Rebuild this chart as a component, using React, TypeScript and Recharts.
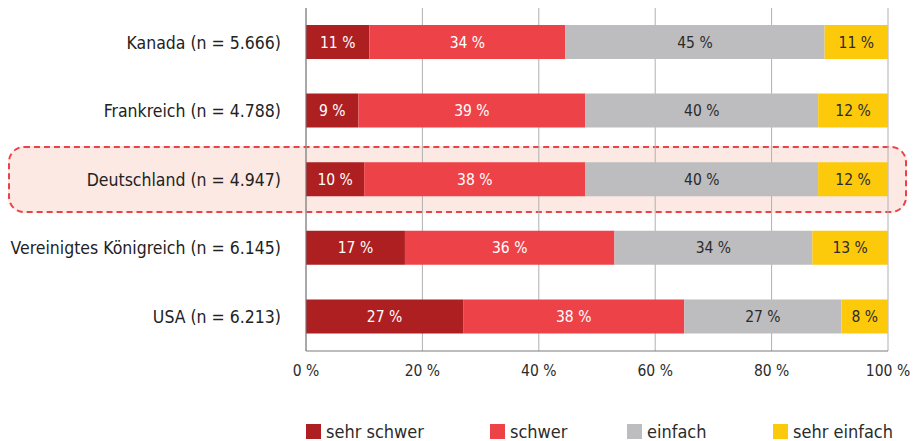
import { BarChart, Bar, XAxis, YAxis, CartesianGrid, Legend, LabelList } from 'recharts';

const countries = [
  'Kanada (n = 5.666)',
  'Frankreich (n = 4.788)',
  'Deutschland (n = 4.947)',
  'Vereinigtes Königreich (n = 6.145)',
  'USA (n = 6.213)',
];
const sehrSchwer = [11, 9, 10, 17, 27];
const schwer = [34, 39, 38, 36, 38];
const einfach = [45, 40, 40, 34, 27];
const sehrEinfach = [11, 12, 12, 13, 8];
const xTicks = [0, 0.2, 0.4, 0.6, 0.8, 1];

const series = [
  { key: 'sehrSchwer', name: 'sehr schwer', color: '#ae1f22', text: '#ffffff', w: 184 },
  { key: 'schwer', name: 'schwer', color: '#ee4249', text: '#ffffff', w: 137 },
  { key: 'einfach', name: 'einfach', color: '#bdbdbf', text: '#2b2b2b', w: 146 },
  { key: 'sehrEinfach', name: 'sehr einfach', color: '#fdc90b', text: '#2b2b2b', w: 130 },
];

const FONT = '"Liberation Sans Narrow", "DejaVu Sans Condensed", "Roboto Condensed", sans-serif';

const data = countries.map((name, i) => ({
  name,
  sehrSchwer: sehrSchwer[i],
  schwer: schwer[i],
  einfach: einfach[i],
  sehrEinfach: sehrEinfach[i],
}));

function LegendContent() {
  return (
    <div style={{ display: 'flex', fontFamily: FONT, fontSize: 18, color: '#2b2b2b', whiteSpace: 'nowrap' }}>
      {series.map((s) => (
        <div key={s.key} style={{ display: 'flex', alignItems: 'center', width: s.w }}>
          <span style={{ width: 15, height: 15, background: s.color, display: 'inline-block', marginRight: 5 }} />
          <span>{s.name}</span>
        </div>
      ))}
    </div>
  );
}

export default function App() {
  return (
    <div style={{ position: 'absolute', left: 0, top: 0, width: 917, height: 441, background: '#fff' }}>
      {/* highlight box behind Deutschland */}
      <div
        style={{
          position: 'absolute',
          left: 8,
          top: 146,
          width: 899,
          height: 67,
          borderRadius: 16,
          background: '#fde9e3',
          border: '2px dashed #e8424a',
          boxSizing: 'border-box',
        }}
      />
      <div style={{ position: 'absolute', left: 0, top: 0 }}>
        <BarChart
          width={917}
          height={441}
          data={data}
          layout="vertical"
          stackOffset="expand"
          barSize={34}
          margin={{ top: 8, right: 29, bottom: 40, left: 0 }}
        >
          <CartesianGrid horizontal={false} stroke="#b0b0b0" />
          <XAxis
            type="number"
            domain={[0, 1]}
            ticks={xTicks}
            tickFormatter={(v: number) => `${Math.round(v * 100)} %`}
            stroke="#7a7a7a"
            tickLine={false}
            tick={{ fill: '#2b2b2b', fontSize: 15.5, fontFamily: FONT }}
            tickMargin={8}
            height={30}
          />
          <YAxis
            type="category"
            dataKey="name"
            width={306}
            stroke="#7a7a7a"
            tickLine={false}
            tickMargin={19}
            tick={{ fill: '#222', fontSize: 17.5, fontFamily: FONT }}
          />
          <Legend
            verticalAlign="bottom"
            content={<LegendContent />}
            wrapperStyle={{ position: 'absolute', left: 306, top: 421, width: 600, height: 20 }}
          />
          {series.map((s) => (
            <Bar key={s.key} dataKey={s.key} name={s.name} stackId="a" fill={s.color} isAnimationActive={false}>
              <LabelList
                dataKey={s.key}
                position="center"
                formatter={(v: number) => `${v} %`}
                fill={s.text}
                style={{ fontSize: 15.5, fontFamily: FONT }}
              />
            </Bar>
          ))}
        </BarChart>
      </div>
    </div>
  );
}
